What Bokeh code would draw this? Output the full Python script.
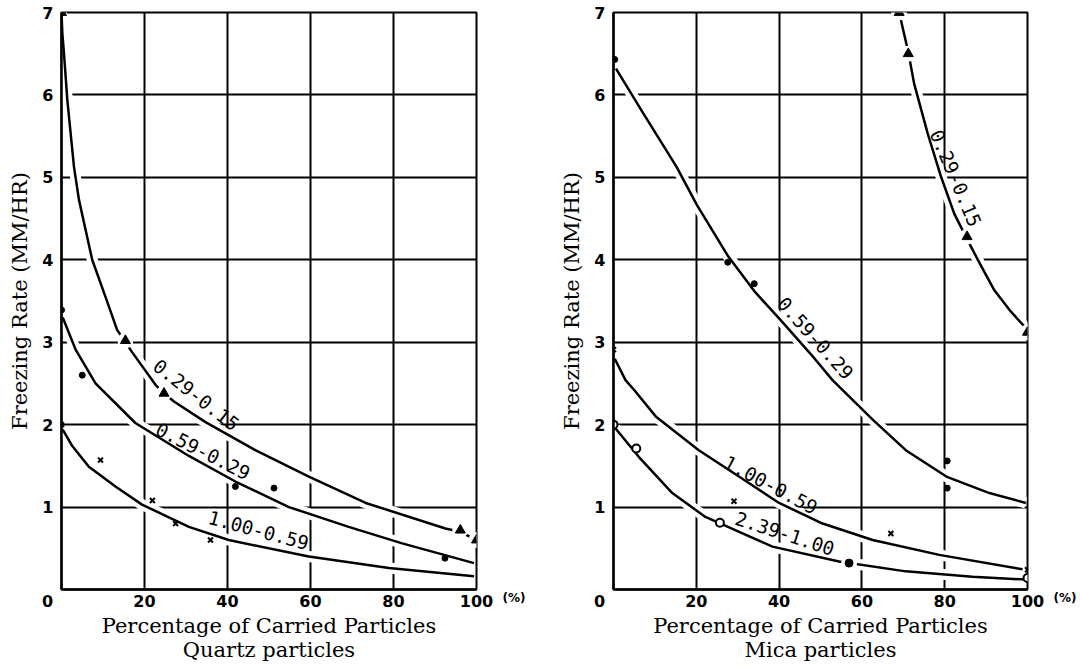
from bokeh.plotting import figure
from bokeh.models import LabelSet, ColumnDataSource, Range1d, FixedTicker, LinearAxis
from bokeh.layouts import row
from bokeh.embed import file_html
from bokeh.resources import INLINE
from bokeh.core.properties import value

# ---------------- data: Quartz particles (left) ----------------
x_ticks = [0, 20, 40, 60, 80, 100]
y_ticks = [1, 2, 3, 4, 5, 6, 7]

q_a_x = [0, 0.2, 0.6, 1.4, 3.0, 4.2, 6.0, 7.4, 10.6, 13.4, 15.4, 17.0, 22.7, 24.7, 27.1, 34.7, 46.7, 59.6, 73.3, 92.5, 96.1, 100]
q_a_y = [7.0, 6.75, 6.5, 5.94, 5.13, 4.73, 4.32, 4.0, 3.55, 3.15, 3.0, 2.88, 2.48, 2.38, 2.28, 2.03, 1.69, 1.37, 1.05, 0.74, 0.70, 0.60]
q_a_mx = [0, 15.4, 24.7, 96.1, 100]
q_a_my = [7.0, 3.02, 2.38, 0.72, 0.60]

q_b_x = [0.3, 3.4, 8.2, 17.8, 30.7, 41.9, 54.8, 69.2, 82.1, 99.4]
q_b_y = [3.30, 2.91, 2.50, 2.02, 1.62, 1.31, 1.00, 0.76, 0.56, 0.32]
q_b_mx = [0, 5.0, 41.9, 51.2, 92.4]
q_b_my = [3.39, 2.60, 1.25, 1.23, 0.38]

q_c_x = [0.3, 2.6, 6.6, 13.0, 19.4, 30.7, 40.3, 59.6, 78.9, 99.4]
q_c_y = [1.94, 1.74, 1.49, 1.25, 1.03, 0.76, 0.60, 0.40, 0.26, 0.16]
q_c_mx = [0, 9.4, 21.9, 27.5, 35.9]
q_c_my = [2.0, 1.57, 1.08, 0.80, 0.60]

q_lab_text = ["0.29-0.15", "0.59-0.29", "1.00-0.59"]
q_lab_x = [32.5, 34.1, 47.5]
q_lab_y = [2.36, 1.68, 0.72]
q_lab_deg = [-38, -27, -15]

# ---------------- data: Mica particles (right) ----------------
m_a_x = [69.0, 71.2, 72.6, 75.9, 79.1, 82.3, 85.4, 88.0, 92.0, 96.0, 100]
m_a_y = [7.0, 6.52, 6.14, 5.53, 5.01, 4.56, 4.25, 4.0, 3.63, 3.37, 3.15]
m_a_mx = [69.0, 71.2, 85.4, 100]
m_a_my = [7.0, 6.5, 4.28, 3.12]

m_b_x = [0.6, 6.9, 15.2, 20.2, 27.6, 34.0, 40.7, 48.6, 52.9, 62.6, 70.6, 80.4, 90.8, 99.6]
m_b_y = [6.32, 5.80, 5.13, 4.66, 4.05, 3.62, 3.25, 2.80, 2.54, 2.06, 1.69, 1.37, 1.17, 1.05]
m_b_mx = [0.3, 27.6, 34.0, 80.6, 80.6]
m_b_my = [6.43, 3.97, 3.71, 1.56, 1.23]

m_c_x = [0.3, 2.9, 5.0, 10.2, 20.6, 30.3, 40.0, 50.5, 62.6, 78.7, 98.8]
m_c_y = [2.80, 2.54, 2.42, 2.10, 1.69, 1.37, 1.05, 0.80, 0.60, 0.42, 0.245]
m_c_mx = [0, 29.1, 67.0, 100]
m_c_my = [2.91, 1.07, 0.68, 0.24]

m_d_x = [0.4, 6.1, 14.2, 22.2, 38.4, 54.5, 70.6, 86.7, 99.6]
m_d_y = [1.96, 1.61, 1.17, 0.88, 0.52, 0.34, 0.22, 0.155, 0.12]
m_d_mx = [0, 5.5, 25.7, 100]
m_d_my = [2.0, 1.71, 0.81, 0.14]
m_d_fx = [56.9]
m_d_fy = [0.32]

m_lab_text = ["0.29-0.15", "0.59-0.29", "1.00-0.59", "2.39-1.00"]
m_lab_x = [82.7, 48.8, 38.0, 41.4]
m_lab_y = [4.99, 3.05, 1.27, 0.68]
m_lab_deg = [-67, -48, -28, -18]

Y_LABEL = "Freezing Rate (MM/HR)"
X_LABEL = "Percentage of Carried Particles"
UNIT = "(%)"

SERIF = "DejaVu Serif"
SANS = "DejaVu Sans"
NB = "\u00a0"


def base_fig(width, bl, br, sub):
    p = figure(width=width, height=664, x_range=Range1d(0, 100), y_range=Range1d(0, 7),
               output_backend="svg", toolbar_location=None,
               min_border_left=bl, min_border_right=br, min_border_top=12, min_border_bottom=60,
               background_fill_color="white", border_fill_color="white")
    p.outline_line_color = "black"
    p.outline_line_width = 2
    p.xgrid.ticker = FixedTicker(ticks=x_ticks[1:-1])
    p.ygrid.ticker = FixedTicker(ticks=y_ticks[:-1])
    for g in (p.xgrid, p.ygrid):
        g.grid_line_color = "black"
        g.grid_line_width = 2
    p.xaxis.ticker = FixedTicker(ticks=x_ticks)
    p.xaxis.major_label_overrides = {0: "0" + NB * 5}
    p.yaxis.ticker = FixedTicker(ticks=y_ticks)
    for ax in (p.xaxis, p.yaxis):
        ax.axis_line_width = 2.5
        ax.axis_line_color = "black"
        ax.major_tick_line_color = None
        ax.minor_tick_line_color = None
        ax.major_tick_out = 0
        ax.major_tick_in = 0
        ax.minor_tick_out = 0
        ax.major_label_text_font = SANS
        ax.major_label_text_font_style = "bold"
        ax.major_label_text_font_size = "16px"
        ax.major_label_text_color = "black"
        ax.axis_label_text_font = SERIF
        ax.axis_label_text_font_style = "normal"
        ax.axis_label_text_font_size = "21px"
        ax.axis_label_text_color = "black"
    p.yaxis.major_label_standoff = 8
    p.xaxis.major_label_standoff = 2
    p.yaxis.axis_label = Y_LABEL
    p.yaxis.axis_label_standoff = 7
    p.xaxis.axis_label = X_LABEL + "\n" + sub
    p.xaxis.axis_label_standoff = 0
    p.xaxis.axis_label_text_line_height = 1.0
    unit_axis = LinearAxis(ticker=FixedTicker(ticks=[0]), major_label_overrides={0: "\n" + UNIT},
                           axis_line_color=None, major_tick_line_color=None,
                           minor_tick_line_color=None, major_tick_out=0, major_tick_in=0,
                           minor_tick_out=0, major_label_standoff=26,
                           major_label_text_font=SANS, major_label_text_font_style="bold",
                           major_label_text_font_size="12px", major_label_text_color="black")
    p.add_layout(unit_axis, "right")
    return p


def halos(p, series):
    # white band under each curve: the grid is interrupted where a curve crosses it
    for xs, ys in series:
        p.line(xs, ys, line_color="white", line_width=11)


def curves(p, series):
    for xs, ys in series:
        p.line(xs, ys, line_color="black", line_width=2.5)


def marker_gap(p, xs, ys):
    p.scatter(xs, ys, marker="circle", size=15, color="white")


def labels(p, texts, xs, ys, degs):
    src = ColumnDataSource(dict(x=xs, y=ys, text=texts, angle=[d * 3.14159265 / 180 for d in degs]))
    p.add_layout(LabelSet(x="x", y="y", text="text", angle="angle", source=src,
                          text_font=value("DejaVu Sans Mono"), text_font_size=value("19px"),
                          text_align="center", text_baseline="middle", text_color="black"))


# left panel
p1 = base_fig(552, 61, 76, "Quartz particles")
q_series = [(q_a_x, q_a_y), (q_b_x, q_b_y), (q_c_x, q_c_y)]
halos(p1, q_series)
curves(p1, q_series)
marker_gap(p1, q_a_mx[1:], q_a_my[1:])
p1.scatter(q_a_mx, q_a_my, marker="triangle", size=10, color="black")
p1.scatter(q_b_mx, q_b_my, marker="circle", size=6, color="black")
p1.scatter(q_c_mx, q_c_my, marker="x", size=7, line_width=2, color="black")
labels(p1, q_lab_text, q_lab_x, q_lab_y, q_lab_deg)

# right panel
p2 = base_fig(528, 61, 53, "Mica particles")
m_series = [(m_a_x, m_a_y), (m_b_x, m_b_y), (m_c_x, m_c_y), (m_d_x, m_d_y)]
halos(p2, m_series)
curves(p2, m_series)
marker_gap(p2, m_a_mx, m_a_my)
marker_gap(p2, m_d_fx, m_d_fy)
p2.scatter(m_a_mx, m_a_my, marker="triangle", size=10, color="black")
p2.scatter(m_b_mx, m_b_my, marker="circle", size=6, color="black")
p2.scatter(m_c_mx, m_c_my, marker="x", size=7, line_width=2, color="black")
p2.scatter(m_d_mx, m_d_my, marker="circle", size=8, line_width=2, line_color="black", fill_color="white")
p2.scatter(m_d_fx, m_d_fy, marker="circle", size=8, color="black")
labels(p2, m_lab_text, m_lab_x, m_lab_y, m_lab_deg)

layout = row(p1, p2)
open("out.html", "w").write(file_html(layout, INLINE))
